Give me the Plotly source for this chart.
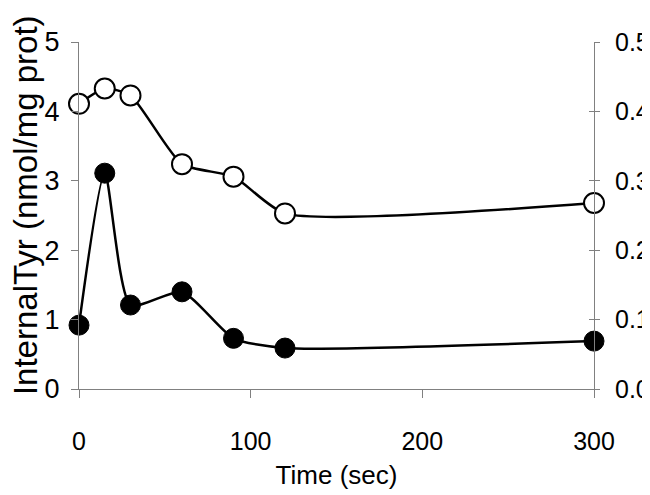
import plotly.graph_objects as go

time_sec = [0, 15, 30, 60, 90, 120, 300]
open_series = [4.11, 4.33, 4.23, 3.24, 3.06, 2.53, 2.68]
filled_series = [0.92, 3.11, 1.21, 1.40, 0.73, 0.59, 0.69]

x_ticks = [0, 100, 200, 300]
left_ticks = [0, 1, 2, 3, 4, 5]
right_ticks = [0.0, 0.1, 0.2, 0.3, 0.4, 0.5]
right_labels = ["0.0", "0.1", "0.2", "0.3", "0.4", "0.5"]

font_fam = "Liberation Sans, Arial, sans-serif"
axis_col = "#808080"

fig = go.Figure()
fig.add_trace(go.Scatter(
    x=time_sec, y=open_series, mode="lines+markers",
    line=dict(color="black", width=2.5, shape="spline", smoothing=0.6),
    marker=dict(symbol="circle", size=20, color="white", line=dict(color="black", width=2)),
    cliponaxis=False, showlegend=False))
fig.add_trace(go.Scatter(
    x=time_sec, y=filled_series, mode="lines+markers",
    line=dict(color="black", width=2.5, shape="spline", smoothing=0.6),
    marker=dict(symbol="circle", size=20, color="black", line=dict(color="black", width=1)),
    cliponaxis=False, showlegend=False))
# invisible traces to activate the right-hand axes
fig.add_trace(go.Scatter(x=[None], y=[None], yaxis="y2", showlegend=False, hoverinfo="skip"))
fig.add_trace(go.Scatter(x=[None], y=[None], yaxis="y3", showlegend=False, hoverinfo="skip"))

fig.update_layout(
    width=650, height=495,
    margin=dict(l=71, r=64, t=34, b=114, autoexpand=False),
    paper_bgcolor="white", plot_bgcolor="white",
    xaxis=dict(
        range=[0, 300], tickvals=x_ticks, ticktext=[str(v) for v in x_ticks],
        showline=True, linecolor=axis_col, linewidth=1,
        ticks="outside", ticklen=8, tickcolor=axis_col, tickwidth=1,
        showgrid=False, zeroline=False, automargin=False,
        tickfont=dict(family=font_fam, size=25, color="black"),
        ticklabelstandoff=22,
        title=dict(text="Time (sec)", font=dict(family=font_fam, size=26, color="black"), standoff=11),
    ),
    yaxis=dict(
        range=[0, 5], tickvals=left_ticks, ticktext=[str(v) for v in left_ticks],
        showline=True, linecolor=axis_col, linewidth=1,
        ticks="outside", ticklen=7, tickcolor=axis_col, tickwidth=1,
        showgrid=False, zeroline=False, automargin=False,
        tickfont=dict(family=font_fam, size=27, color="black"),
        ticklabelstandoff=6,
    ),
    yaxis2=dict(
        range=[0, 0.5], tickvals=right_ticks, ticktext=right_labels,
        overlaying="y", side="right", anchor="x",
        showline=True, linecolor=axis_col, linewidth=1,
        ticks="outside", ticklen=5, tickcolor=axis_col, tickwidth=1,
        showgrid=False, zeroline=False, automargin=False,
        tickfont=dict(family=font_fam, size=25, color="black"),
        ticklabelstandoff=10,
    ),
    yaxis3=dict(
        range=[0, 0.5], tickvals=right_ticks, showticklabels=False,
        overlaying="y", side="right", anchor="x",
        showline=False, ticks="inside", ticklen=5, tickcolor=axis_col, tickwidth=1,
        showgrid=False, zeroline=False, automargin=False,
    ),
    annotations=[dict(
        text="InternalTyr (nmol/mg prot)", textangle=-90,
        xref="paper", yref="paper", x=-0.1049, y=0.53,
        xanchor="center", yanchor="middle", showarrow=False,
        font=dict(family=font_fam, size=33, color="black"),
    )],
)

fig.write_html("out.html")
